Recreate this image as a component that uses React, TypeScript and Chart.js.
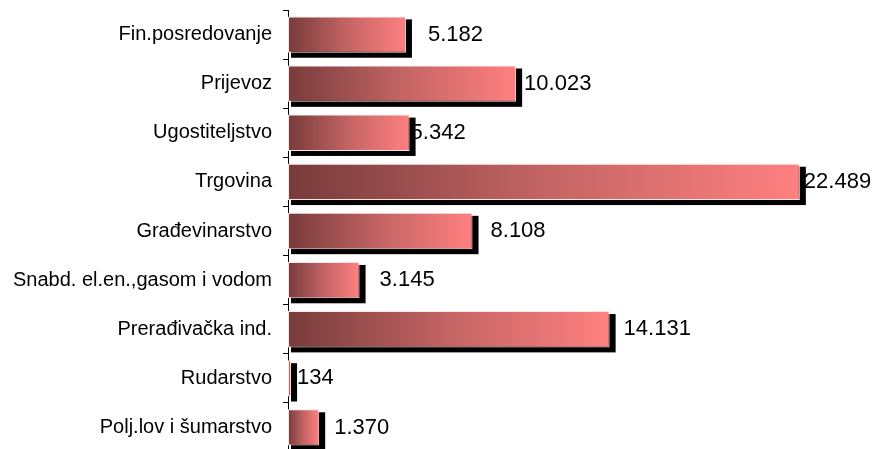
import React, { useEffect, useRef } from "react";
import { Chart, registerables } from "chart.js";

Chart.register(...registerables);

const categories = [
  "Fin.posredovanje",
  "Prijevoz",
  "Ugostiteljstvo",
  "Trgovina",
  "Građevinarstvo",
  "Snabd. el.en.,gasom i vodom",
  "Prerađivačka ind.",
  "Rudarstvo",
  "Polj.lov i šumarstvo",
];
const values = [5182, 10023, 5342, 22489, 8108, 3145, 14131, 134, 1370];
const labelGaps = [22, 8, 1, 4, 18, 20, 14, 6, 15];

const FONT = "Arial, 'Liberation Sans', sans-serif";

function fmt(v: number): string {
  const s = String(Math.round(v));
  return s.replace(/\B(?=(\d{3})+(?!\d))/g, ".");
}

const shadowPlugin = {
  id: "barShadow",
  beforeDatasetsDraw(chart: any) {
    const ctx = chart.ctx;
    const meta = chart.getDatasetMeta(0);
    ctx.save();
    ctx.fillStyle = "#000";
    meta.data.forEach((el: any) => {
      const p = el.getProps(["x", "y", "base", "height"], true);
      const top = p.y - p.height / 2;
      const bottom = p.y + p.height / 2;
      const left = Math.min(p.base, p.x);
      const right = Math.max(p.base, p.x);
      ctx.fillRect(left + 3, top + 3, right - left + 3, bottom - top + 2);
    });
    ctx.restore();
  },
  afterDatasetsDraw(chart: any) {
    const ctx = chart.ctx;
    const meta = chart.getDatasetMeta(0);
    ctx.save();
    ctx.fillStyle = "#000";
    ctx.font = `22px ${FONT}`;
    ctx.textBaseline = "middle";
    ctx.textAlign = "left";
    meta.data.forEach((el: any, i: number) => {
      const p = el.getProps(["x", "y"], true);
      ctx.fillText(fmt(values[i]), p.x + labelGaps[i], p.y);
    });
    ctx.restore();
  },
};

export default function App() {
  const ref = useRef<HTMLCanvasElement | null>(null);
  useEffect(() => {
    document.body.style.margin = "0";
    const canvas = ref.current!;
    const chart = new Chart(canvas, {
      type: "bar",
      data: {
        labels: categories,
        datasets: [
          {
            data: values,
            backgroundColor: (c: any) => {
              const ch = c.chart;
              const xs = ch.scales?.x;
              if (!xs || c.dataIndex === undefined) return "#ff8080";
              const x0 = xs.getPixelForValue(0);
              const x1 = xs.getPixelForValue(values[c.dataIndex]);
              if (!isFinite(x0) || !isFinite(x1) || x1 - x0 < 1) return "#c06060";
              const g = ch.ctx.createLinearGradient(x0, 0, x1, 0);
              g.addColorStop(0, "#783b3b");
              g.addColorStop(0.5, "#c46464");
              g.addColorStop(1, "#ff8080");
              return g;
            },
            borderColor: "#ffe4e4",
            borderWidth: 1,
            borderSkipped: false,
            barPercentage: 0.74,
            categoryPercentage: 1,
          },
        ],
      },
      options: {
        indexAxis: "y",
        responsive: false,
        animation: false,
        layout: { padding: { top: 10, right: 20, bottom: 0, left: 0 } },
        plugins: { legend: { display: false }, tooltip: { enabled: false } },
        scales: {
          x: { display: false, min: 0, max: 25000 },
          y: {
            grid: {
              drawOnChartArea: false,
              offset: true,
              tickLength: 5,
              color: "#000",
              lineWidth: 1,
            },
            border: { color: "#000", width: 1 },
            ticks: {
              color: "#000",
              font: { family: FONT, size: 20 },
              padding: 11,
            },
            afterFit: (s: any) => {
              s.width = 288;
              s.paddingTop = 0;
              s.paddingBottom = 0;
            },
          },
        },
      },
      plugins: [shadowPlugin],
    } as any);
    return () => chart.destroy();
  }, []);
  return (
    <div style={{ width: 877, height: 449, overflow: "hidden", background: "#fff" }}>
      <canvas ref={ref} width={877} height={452} style={{ display: "block" }} />
    </div>
  );
}
